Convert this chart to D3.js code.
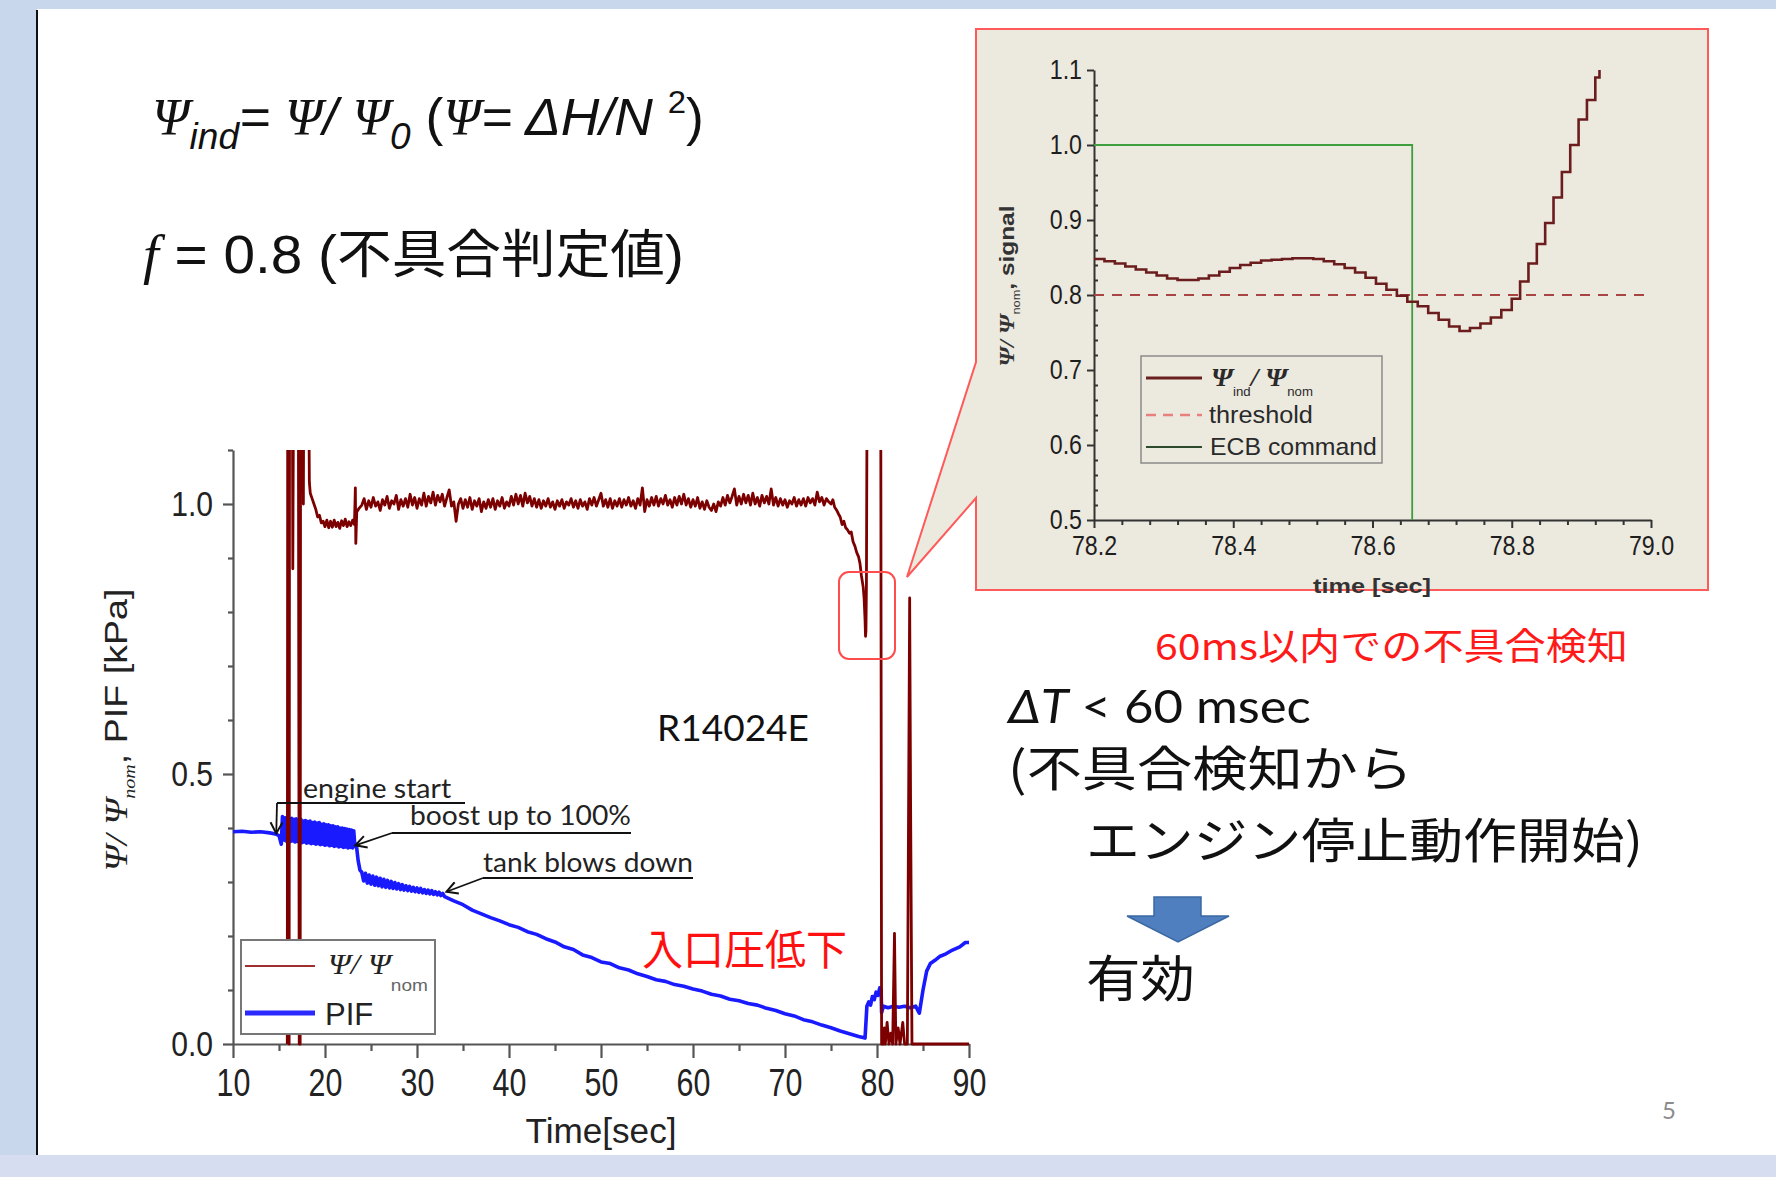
<!DOCTYPE html>
<html>
<head>
<meta charset="utf-8">
<script src="https://cdn.jsdelivr.net/npm/d3@7"></script>
<style>
  body { margin: 0; background: #fff; }
  svg { display: block; }
</style>
</head>
<body>
<svg id="slide" width="1776" height="1177"></svg>
<script>
// ---- data ----
const xTicksMain = [10, 20, 30, 40, 50, 60, 70, 80, 90];
const yTicksMain = [0.0, 0.5, 1.0];
const xTicksInset = [78.2, 78.4, 78.6, 78.8, 79.0];
const yTicksInset = [0.5, 0.6, 0.7, 0.8, 0.9, 1.0, 1.1];

// psi / psi_nom, full run (time [s], value)
const psiTrace = [
  [15.9,0],[15.95,1.3],[16.05,1.3],[16.1,0],[16.15,1.3],[16.45,1.3],[16.5,0.88],[16.6,1.3],[17.1,1.3],[17.2,0],
  [17.3,0],[17.35,1.3],[17.6,1.3],[17.65,1.0],[17.7,1.3],[18.2,1.3],[18.3,1.04],[18.4,1.02],[18.6,1.01],[18.8,1.0],
  [19.0,0.99],[19.2,0.976],[19.4,0.979],[19.6,0.965],[19.8,0.968],[20.0,0.958],[20.2,0.970],[20.4,0.956],[20.6,0.968],
  [20.8,0.957],[21.0,0.970],[21.2,0.958],[21.4,0.966],[21.6,0.955],[21.8,0.969],[22.0,0.960],[22.2,0.972],[22.4,0.958],
  [22.6,0.967],[22.8,0.960],[23.0,0.970],[23.2,0.962],[23.3,1.03],[23.35,0.927],[23.45,0.985],[23.7,0.992],
  [24.0,0.998],[24.25,1.010],[24.5,0.990],[24.75,1.006],[25.0,0.994],[25.25,1.012],[25.5,0.996],[25.75,1.004],[26.0,0.988],
  [26.25,1.008],[26.5,0.998],[26.75,1.014],[27.0,0.992],[27.25,1.006],[27.5,1.000],[27.75,1.016],[28.0,0.990],[28.25,1.008],
  [28.5,0.996],[28.75,1.010],[29.0,0.994],[29.25,1.018],[29.5,0.998],[29.75,1.012],[30.0,0.992],[30.25,1.010],[30.5,0.998],
  [30.75,1.020],[31.0,0.996],[31.25,1.014],[31.5,1.002],[31.75,1.022],[32.0,0.998],[32.25,1.016],[32.5,1.004],[32.75,1.018],
  [33.0,0.996],[33.25,1.012],[33.5,1.026],[33.75,0.996],[34.0,1.004],[34.25,0.968],[34.5,1.000],[34.75,1.010],[35.0,0.992],
  [35.25,1.008],[35.5,0.994],[35.75,1.012],[36.0,0.990],[36.25,1.006],[36.5,0.996],[36.75,1.010],[37.0,0.986],[37.25,1.004],
  [37.5,0.992],[37.75,1.008],[38.0,0.994],[38.25,1.010],[38.5,0.990],[38.75,1.006],[39.0,0.996],[39.25,1.012],[39.5,0.992],
  [39.75,1.004],[40.0,0.996],[40.25,1.014],[40.5,0.998],[40.75,1.018],[41.0,1.000],[41.25,1.016],[41.5,0.996],[41.75,1.020],
  [42.0,1.002],[42.25,1.014],[42.5,0.996],[42.75,1.010],[43.0,0.994],[43.25,1.008],[43.5,0.992],[43.75,1.006],[44.0,0.996],
  [44.25,1.010],[44.5,0.994],[44.75,1.004],[45.0,0.990],[45.25,1.006],[45.5,0.996],[45.75,1.008],[46.0,0.992],[46.25,1.004],
  [46.5,0.998],[46.75,1.010],[47.0,0.994],[47.25,1.006],[47.5,0.992],[47.75,1.008],[48.0,0.996],[48.25,1.004],[48.5,0.990],
  [48.75,1.010],[49.0,0.998],[49.25,1.012],[49.5,0.996],[49.75,1.008],[50.0,1.020],[50.25,0.996],[50.5,1.008],[50.75,0.994],
  [51.0,1.010],[51.25,0.992],[51.5,1.006],[51.75,0.996],[52.0,1.010],[52.25,0.994],[52.5,1.008],[52.75,0.998],[53.0,1.012],
  [53.25,0.996],[53.5,1.006],[53.75,0.992],[54.0,1.010],[54.25,0.998],[54.5,1.030],[54.75,0.986],[55.0,1.008],[55.25,0.996],
  [55.5,1.012],[55.75,0.998],[56.0,1.014],[56.25,0.996],[56.5,1.010],[56.75,1.000],[57.0,1.016],[57.25,0.998],[57.5,1.008],
  [57.75,0.994],[58.0,1.012],[58.25,0.998],[58.5,1.014],[58.75,1.000],[59.0,1.018],[59.25,0.998],[59.5,1.010],[59.75,0.994],
  [60.0,1.008],[60.25,0.996],[60.5,1.012],[60.75,0.992],[61.0,1.004],[61.25,0.990],[61.5,1.006],[61.75,0.994],[62.0,0.988],
  [62.25,1.000],[62.5,0.986],[62.75,1.004],[63.0,0.996],[63.25,1.012],[63.5,0.998],[63.75,1.016],[64.0,1.002],[64.25,1.014],
  [64.5,1.028],[64.75,0.998],[65.0,1.014],[65.25,1.000],[65.5,1.018],[65.75,1.002],[66.0,1.016],[66.25,0.998],[66.5,1.020],
  [66.75,1.000],[67.0,1.012],[67.25,0.996],[67.5,1.016],[67.75,1.002],[68.0,1.014],[68.25,1.000],[68.5,1.028],[68.75,0.998],
  [69.0,1.012],[69.25,0.996],[69.5,1.010],[69.75,0.998],[70.0,1.008],[70.25,0.994],[70.5,1.006],[70.75,1.000],[71.0,1.012],
  [71.25,0.996],[71.5,1.008],[71.75,0.998],[72.0,1.010],[72.25,0.996],[72.5,1.012],[72.75,1.002],[73.0,1.010],[73.25,0.998],
  [73.5,1.022],[73.75,1.004],[74.0,1.012],[74.25,0.998],[74.5,1.010],[74.75,1.004],
  [75.0,1.000],[75.2,1.008],[75.4,0.994],[75.6,0.989],[75.8,0.982],[76.0,0.976],[76.2,0.962],[76.4,0.968],[76.6,0.956],
  [76.8,0.952],[77.0,0.946],[77.2,0.948],[77.4,0.930],[77.6,0.922],[77.8,0.910],[78.0,0.902],[78.15,0.890],[78.3,0.868],
  [78.5,0.846],[78.6,0.825],[78.7,0.785],[78.75,0.755],[78.8,0.765],[78.85,0.85],[78.9,1.1],[78.95,1.3],[80.4,1.3],[80.5,0],
  [80.7,0],[80.8,0.03],[80.9,0],[81.1,0.04],[81.3,0],[81.5,0.02],[81.7,0],[81.9,0.205],[82.05,0],[82.3,0.03],
  [82.5,0],[82.8,0.04],[83.0,0],[83.3,0],[83.55,0.826],[83.65,0.45],[83.8,0],[84.0,0],[90,0]
];

// PIF [kPa], full run (time [s], value)
const pifTrace = [
  [10,0.393],[11,0.394],[12,0.392],[13,0.393],[14,0.391],[14.6,0.389],[15.0,0.386],
  [15.25,0.370],[15.375,0.421],[15.5,0.378],[15.625,0.419],[15.75,0.376],[15.875,0.420],[16.0,0.377],[16.125,0.417],
  [16.25,0.375],[16.375,0.418],[16.5,0.376],[16.625,0.416],[16.75,0.374],[16.875,0.417],[17.0,0.375],[17.125,0.414],
  [17.25,0.374],[17.375,0.416],[17.5,0.373],[17.625,0.413],[17.75,0.374],[17.875,0.414],[18.0,0.372],[18.125,0.412],
  [18.25,0.373],[18.375,0.413],[18.5,0.371],[18.625,0.410],[18.75,0.372],[18.875,0.411],[19.0,0.370],[19.125,0.409],
  [19.25,0.371],[19.375,0.410],[19.5,0.369],[19.625,0.407],[19.75,0.370],[19.875,0.408],[20.0,0.368],[20.125,0.406],
  [20.25,0.369],[20.375,0.406],[20.5,0.367],[20.625,0.404],[20.75,0.368],[20.875,0.404],[21.0,0.366],[21.125,0.402],
  [21.25,0.367],[21.375,0.402],[21.5,0.365],[21.625,0.400],[21.75,0.366],[21.875,0.400],[22.0,0.364],[22.125,0.399],
  [22.25,0.365],[22.375,0.398],[22.5,0.363],[22.625,0.397],[22.75,0.364],[22.875,0.396],[23.0,0.363],[23.125,0.395],
  [23.25,0.366],[23.4,0.370],[23.6,0.340],[23.8,0.322],[24.0,0.318],[24.2,0.302],[24.4,0.316],[24.6,0.298],[24.8,0.313],
  [25.0,0.296],[25.2,0.311],[25.4,0.294],[25.6,0.309],[25.8,0.293],[26.0,0.307],[26.2,0.291],[26.4,0.305],[26.6,0.290],
  [26.8,0.303],[27.0,0.289],[27.2,0.301],[27.4,0.288],[27.6,0.299],[27.8,0.287],[28.0,0.297],[28.2,0.286],[28.4,0.295],
  [28.6,0.285],[28.8,0.293],[29.0,0.284],[29.2,0.292],[29.4,0.283],[29.6,0.290],[29.8,0.282],[30.0,0.289],[30.2,0.281],
  [30.4,0.288],[30.6,0.280],[30.8,0.286],[31.0,0.279],[31.2,0.285],[31.4,0.278],[31.6,0.284],[31.8,0.277],[32.0,0.282],
  [32.2,0.276],[32.4,0.281],[32.6,0.275],[32.8,0.279],[33.0,0.273],
  [34,0.265],[35,0.258],[36,0.248],[37,0.241],[38,0.234],[39,0.228],[40,0.221],[41,0.216],[42,0.208],[43,0.203],
  [44,0.195],[45,0.189],[46,0.180],[47,0.175],[48,0.165],[49,0.160],[50,0.152],[51,0.149],[52,0.141],[53,0.137],
  [54,0.130],[55,0.125],[56,0.119],[57,0.116],[58,0.110],[59,0.107],[60,0.102],[61,0.098],[62,0.092],[63,0.089],
  [64,0.083],[65,0.080],[66,0.075],[67,0.072],[68,0.066],[69,0.062],[70,0.056],[71,0.052],[72,0.045],[73,0.041],
  [74,0.035],[75,0.030],[76,0.024],[77,0.019],[78,0.014],[78.7,0.011],[78.8,0.04],
  [78.9,0.07],[79.1,0.078],[79.3,0.072],[79.5,0.088],[79.7,0.082],[79.9,0.096],[80.1,0.09],[80.3,0.104],[80.45,0.1],
  [80.5,0.058],[80.7,0.07],[81.2,0.067],[81.8,0.07],[82.4,0.068],[83.0,0.07],[83.6,0.067],[84.2,0.07],[84.6,0.057],
  [85.0,0.1],[85.4,0.135],[85.8,0.149],[86.3,0.155],[86.8,0.162],[87.5,0.167],[88.2,0.174],[89.0,0.18],[89.6,0.188],[90,0.188]
];

// zoomed window: psi_ind / psi_nom (sampled, stepwise)
const psiInset = [
  [78.200,0.848],[78.215,0.845],[78.230,0.842],[78.245,0.838],[78.260,0.834],[78.275,0.830],[78.290,0.826],[78.305,0.822],
  [78.320,0.820],[78.335,0.820],[78.350,0.822],[78.365,0.826],[78.380,0.831],[78.395,0.836],[78.410,0.840],[78.425,0.843],
  [78.440,0.846],[78.455,0.847],[78.470,0.848],[78.485,0.849],[78.500,0.849],[78.515,0.848],[78.530,0.845],[78.545,0.841],
  [78.560,0.836],[78.575,0.830],[78.590,0.823],[78.605,0.815],[78.620,0.807],[78.635,0.799],[78.650,0.791],[78.665,0.785],
  [78.680,0.776],[78.695,0.767],[78.710,0.758],[78.725,0.752],[78.740,0.756],[78.755,0.762],[78.770,0.770],[78.785,0.780],
  [78.800,0.795],[78.812,0.818],[78.824,0.842],[78.836,0.868],[78.848,0.896],[78.860,0.930],[78.872,0.964],[78.884,1.000],
  [78.896,1.034],[78.908,1.060],[78.920,1.090],[78.926,1.100]
];
const thresholdLevel = 0.8;
const ecbCommand = [[78.2, 1.0], [78.657, 1.0], [78.657, 0.5]];

// ---- fonts ----
const SANS = "'Liberation Sans',Arial,sans-serif";
const SERIF = "'Liberation Serif','DejaVu Serif',serif";
const CALI = "Lato,'Noto Sans CJK JP',sans-serif";
const JP = "'Noto Sans CJK JP','Noto Sans',sans-serif";

const svg = d3.select('#slide');

// stretch a text horizontally so it spans the given width
function fit(sel, width, anchor) {
  const bb = sel.node().getBBox();
  const k = width / bb.width;
  const ox = anchor === 'middle' ? bb.x + bb.width / 2 : anchor === 'end' ? bb.x + bb.width : bb.x;
  sel.attr('transform', 'translate(' + ox + ',0) scale(' + k + ',1) translate(' + (-ox) + ',0)');
  return sel;
}

// narrow the tick labels the way the pasted plot looks
function squeezeTicks(axisG, k, anchor) {
  axisG.selectAll('.tick text').each(function () {
    const t = d3.select(this);
    const w = this.getBBox().width;
    fit(t, w * k, anchor);
  });
}

function drawSlide() {
  svg.append('rect').attr('width', 1776).attr('height', 1177).attr('fill', '#c9d7ec');
  svg.append('rect').attr('x', 0).attr('y', 1155).attr('width', 1776).attr('height', 22).attr('fill', '#d6ddf0');
  svg.append('rect').attr('x', 37).attr('y', 9).attr('width', 1739).attr('height', 1146).attr('fill', '#ffffff');
  svg.append('line').attr('x1', 37).attr('x2', 37).attr('y1', 10).attr('y2', 1155)
    .attr('stroke', '#111').attr('stroke-width', 2);
}

function drawFormulas() {
  const t1 = svg.append('text').attr('x', 152).attr('y', 135)
    .attr('font-family', SANS).attr('font-style', 'italic').attr('font-size', 52).attr('fill', '#111');
  t1.append('tspan').attr('font-family', SERIF).text('Ψ');
  t1.append('tspan').attr('font-size', 36).attr('dy', 14).text('ind');
  t1.append('tspan').attr('dy', -14).text('= ');
  t1.append('tspan').attr('font-family', SERIF).text('Ψ');
  t1.append('tspan').text('/ ');
  t1.append('tspan').attr('font-family', SERIF).text('Ψ');
  t1.append('tspan').attr('font-size', 36).attr('dy', 14).text('0');
  t1.append('tspan').attr('dy', -14).attr('font-style', 'normal').text('  (');
  t1.append('tspan').attr('font-family', SERIF).text('Ψ');
  t1.append('tspan').text('= ΔH/N ');
  t1.append('tspan').attr('font-style', 'normal').attr('font-size', 32).attr('dy', -22).text('2');
  t1.append('tspan').attr('font-style', 'normal').attr('dy', 22).text(')');
  fit(t1, 552, 'start');

  const t2 = svg.append('text').attr('x', 143).attr('y', 273)
    .attr('font-family', SANS).attr('font-size', 54).attr('fill', '#111');
  t2.append('tspan').attr('font-family', SERIF).attr('font-style', 'italic').text('f');
  t2.append('tspan').text(' = 0.8 (');
  t2.append('tspan').attr('font-family', JP).attr('font-size', 52).text('不具合判定値');
  t2.append('tspan').text(')');
  fit(t2, 541, 'start');
}

function drawMainChart() {
  const x = d3.scaleLinear().domain([10, 90]).range([233, 969]);
  const y = d3.scaleLinear().domain([0, 1.1]).range([1044, 450]);
  const g = svg.append('g').attr('class', 'main');

  g.append('clipPath').attr('id', 'clipMain').append('rect')
    .attr('x', 233).attr('y', 450).attr('width', 738).attr('height', 597);

  // axes
  const xa = g.append('g').attr('class', 'x axis').attr('transform', 'translate(0,1044)');
  xa.call(d3.axisBottom(x).tickValues(xTicksMain).tickSize(14).tickSizeOuter(0).tickPadding(11).tickFormat(d3.format('d')));
  const xm = g.append('g').attr('class', 'x minor').attr('transform', 'translate(0,1044)');
  xm.call(d3.axisBottom(x).tickValues(d3.range(15, 90, 10)).tickSize(7).tickFormat(''));
  xm.select('.domain').remove();

  const ya = g.append('g').attr('class', 'y axis').attr('transform', 'translate(233,0)');
  ya.call(d3.axisLeft(y).tickValues(yTicksMain).tickSize(10).tickSizeOuter(0).tickPadding(10).tickFormat(d3.format('.1f')));
  const ym = g.append('g').attr('class', 'y minor').attr('transform', 'translate(233,0)');
  ym.call(d3.axisLeft(y).tickValues([0.1, 0.2, 0.3, 0.4, 0.6, 0.7, 0.8, 0.9, 1.1]).tickSize(5).tickFormat(''));
  ym.select('.domain').remove();

  g.selectAll('.axis path, .minor line, .axis line').attr('stroke', '#555').attr('stroke-width', 2.2);
  xa.selectAll('.tick text').attr('font-family', SANS).attr('font-size', 38).attr('fill', '#222');
  ya.selectAll('.tick text').attr('font-family', SANS).attr('font-size', 35).attr('fill', '#222');
  squeezeTicks(xa, 0.8, 'middle');
  squeezeTicks(ya, 0.86, 'end');

  // series
  const line = d3.line().x(d => x(d[0])).y(d => y(d[1]));
  const series = g.append('g').attr('clip-path', 'url(#clipMain)');
  series.append('path').datum(pifTrace).attr('d', line)
    .attr('fill', 'none').attr('stroke', '#1a1aff').attr('stroke-width', 3.6).attr('stroke-linejoin', 'round');
  series.append('path').datum(psiTrace).attr('d', line)
    .attr('fill', 'none').attr('stroke', '#7d0000').attr('stroke-width', 2.8).attr('stroke-linejoin', 'round');

  // axis titles
  const xt = g.append('text').attr('x', 601).attr('y', 1143).attr('text-anchor', 'middle')
    .attr('font-family', SANS).attr('font-size', 36).attr('fill', '#222').text('Time[sec]');
  fit(xt, 151, 'middle');

  const yg = g.append('g').attr('transform', 'translate(127,730) rotate(-90)');
  const yt = yg.append('text').attr('text-anchor', 'middle').attr('font-family', SANS).attr('font-size', 32).attr('fill', '#222');
  yt.append('tspan').attr('font-family', SERIF).attr('font-style', 'italic').text('Ψ/ Ψ');
  yt.append('tspan').attr('font-family', SERIF).attr('font-style', 'italic').attr('font-size', 17).attr('dy', 8).text('nom');
  yt.append('tspan').attr('dy', -8).text(',  PIF [kPa]');
  fit(yt, 283, 'middle');

  // annotations
  const defs = svg.append('defs');
  defs.append('marker').attr('id', 'vhead').attr('viewBox', '-12 -7 14 14')
    .attr('markerWidth', 14).attr('markerHeight', 14).attr('markerUnits', 'userSpaceOnUse')
    .attr('refX', 0).attr('refY', 0).attr('orient', 'auto')
    .append('path').attr('d', 'M-11,-6 L0,0 L-11,6').attr('fill', 'none').attr('stroke', '#111').attr('stroke-width', 2);

  const notes = [
    { text: 'engine start', tip: [14.7, 0.39], from: [277, 803], end: 465, tx: 303, ty: 798, w: 149 },
    { text: 'boost up to 100%', tip: [23.3, 0.368], from: [392, 833], end: 631, tx: 410, ty: 825, w: 221 },
    { text: 'tank blows down', tip: [33.2, 0.282], from: [483, 878], end: 693, tx: 483, ty: 872, w: 210 }
  ];
  const ann = g.append('g').attr('class', 'annotations');
  notes.forEach(n => {
    ann.append('line').attr('x1', n.from[0]).attr('y1', n.from[1]).attr('x2', n.end).attr('y2', n.from[1])
      .attr('stroke', '#111').attr('stroke-width', 1.8);
    ann.append('line').attr('x1', n.from[0]).attr('y1', n.from[1]).attr('x2', x(n.tip[0])).attr('y2', y(n.tip[1]))
      .attr('stroke', '#111').attr('stroke-width', 1.8).attr('marker-end', 'url(#vhead)');
    const t = ann.append('text').attr('x', n.tx).attr('y', n.ty).attr('font-family', CALI).attr('font-size', 26)
      .attr('fill', '#222').text(n.text);
    fit(t, n.w, 'start');
  });

  const run = g.append('text').attr('x', 657).attr('y', 741).attr('font-family', CALI).attr('font-size', 36)
    .attr('fill', '#111').text('R14024E');
  fit(run, 152, 'start');

  const drop = g.append('text').attr('x', 642).attr('y', 965).attr('font-family', JP).attr('font-size', 42)
    .attr('fill', '#ff1010').text('入口圧低下');
  fit(drop, 205, 'start');

  g.append('rect').attr('x', 839).attr('y', 572).attr('width', 56).attr('height', 87).attr('rx', 10)
    .attr('fill', 'none').attr('stroke', '#ff4d4d').attr('stroke-width', 2);

  // legend
  const lg = g.append('g').attr('class', 'legend');
  lg.append('rect').attr('x', 241).attr('y', 940).attr('width', 194).attr('height', 94)
    .attr('fill', '#fff').attr('stroke', '#777').attr('stroke-width', 2);
  lg.append('line').attr('x1', 245).attr('x2', 315).attr('y1', 966).attr('y2', 966)
    .attr('stroke', '#a03030').attr('stroke-width', 1.8);
  lg.append('line').attr('x1', 245).attr('x2', 315).attr('y1', 1013).attr('y2', 1013)
    .attr('stroke', '#2a2aff').attr('stroke-width', 5);
  const l1 = lg.append('text').attr('x', 328).attr('y', 974).attr('font-family', SERIF).attr('font-style', 'italic')
    .attr('font-size', 29).attr('fill', '#222');
  l1.append('tspan').text('Ψ/ Ψ');
  l1.append('tspan').attr('font-family', SANS).attr('font-style', 'normal').attr('font-size', 17)
    .attr('fill', '#666').attr('dy', 17).text('nom');
  fit(l1, 100, 'start');
  lg.append('text').attr('x', 325).attr('y', 1025).attr('font-family', SANS).attr('font-size', 31)
    .attr('fill', '#222').text('PIF');
}

function drawInset() {
  const xi = d3.scaleLinear().domain([78.2, 79.0]).range([1094, 1651]);
  const yi = d3.scaleLinear().domain([0.5, 1.1]).range([520, 70]);
  const g = svg.append('g').attr('class', 'inset');

  // callout panel
  g.append('path').attr('d', 'M976,29 H1708 V590 H976 V498 L907,577 L976,362 Z')
    .attr('fill', '#ece9df').attr('stroke', '#ff5a5a').attr('stroke-width', 2);

  const xa = g.append('g').attr('transform', 'translate(0,520)');
  xa.call(d3.axisBottom(xi).tickValues(xTicksInset).tickSize(8).tickSizeOuter(0).tickPadding(8).tickFormat(d3.format('.1f')));
  const xm = g.append('g').attr('transform', 'translate(0,520)');
  xm.call(d3.axisBottom(xi).tickValues(d3.range(78.24, 78.99, 0.04).filter(v => Math.abs(v * 5 - Math.round(v * 5)) > 0.01)).tickSize(5).tickFormat(''));
  xm.select('.domain').remove();

  const ya = g.append('g').attr('transform', 'translate(1094,0)');
  ya.call(d3.axisLeft(yi).tickValues(yTicksInset).tickSize(7).tickSizeOuter(0).tickPadding(5).tickFormat(d3.format('.1f')));
  const ym = g.append('g').attr('transform', 'translate(1094,0)');
  ym.call(d3.axisLeft(yi).tickValues(d3.range(0.52, 1.09, 0.02).filter(v => Math.abs(v * 10 - Math.round(v * 10)) > 0.01)).tickSize(-4).tickFormat(''));
  ym.select('.domain').remove();

  g.selectAll('.domain, .tick line').attr('stroke', '#333').attr('stroke-width', 2);
  g.selectAll('.tick text').attr('font-family', SANS).attr('font-size', 27).attr('fill', '#1e1e1e');
  squeezeTicks(xa, 0.86, 'middle');
  squeezeTicks(ya, 0.86, 'end');

  const line = d3.line().x(d => xi(d[0])).y(d => yi(d[1]));
  g.append('path').datum(ecbCommand).attr('d', line)
    .attr('fill', 'none').attr('stroke', '#3f9f3f').attr('stroke-width', 1.8);
  g.append('path').datum([[78.2, thresholdLevel], [79.0, thresholdLevel]]).attr('d', line)
    .attr('fill', 'none').attr('stroke', '#a84444').attr('stroke-width', 2).attr('stroke-dasharray', '10,8');
  g.append('path').datum(psiInset).attr('d', line.curve(d3.curveStepAfter))
    .attr('fill', 'none').attr('stroke', '#6b1d1d').attr('stroke-width', 2.6);

  const xt = g.append('text').attr('x', 1372).attr('y', 593).attr('text-anchor', 'middle')
    .attr('font-family', SANS).attr('font-weight', 'bold').attr('font-size', 21).attr('fill', '#333').text('time [sec]');
  fit(xt, 118, 'middle');

  const yg = g.append('g').attr('transform', 'translate(1014,286) rotate(-90)');
  const yt = yg.append('text').attr('text-anchor', 'middle').attr('font-family', SANS).attr('font-weight', 'bold')
    .attr('font-size', 21).attr('fill', '#333');
  yt.append('tspan').attr('font-family', SERIF).attr('font-style', 'italic').text('Ψ/ Ψ');
  yt.append('tspan').attr('font-weight', 'normal').attr('font-size', 11).attr('dy', 6).text('nom');
  yt.append('tspan').attr('dy', -6).text(', signal');
  fit(yt, 161, 'middle');

  // legend
  const lg = g.append('g');
  lg.append('rect').attr('x', 1141).attr('y', 356).attr('width', 241).attr('height', 107)
    .attr('fill', 'none').attr('stroke', '#8a8a8a').attr('stroke-width', 1.5);
  lg.append('line').attr('x1', 1146).attr('x2', 1202).attr('y1', 378).attr('y2', 378)
    .attr('stroke', '#6b2020').attr('stroke-width', 3);
  lg.append('line').attr('x1', 1146).attr('x2', 1202).attr('y1', 415).attr('y2', 415)
    .attr('stroke', '#e88080').attr('stroke-width', 2.5).attr('stroke-dasharray', '10,7');
  lg.append('line').attr('x1', 1146).attr('x2', 1202).attr('y1', 447).attr('y2', 447)
    .attr('stroke', '#2e4a2e').attr('stroke-width', 2);
  const e1 = lg.append('text').attr('x', 1211).attr('y', 386).attr('font-family', SERIF).attr('font-style', 'italic')
    .attr('font-weight', 'bold').attr('font-size', 25).attr('fill', '#2a2a2a');
  e1.append('tspan').text('Ψ');
  e1.append('tspan').attr('font-family', SANS).attr('font-style', 'normal').attr('font-weight', 'normal')
    .attr('font-size', 12).attr('dy', 10).text('ind');
  e1.append('tspan').attr('dy', -10).text('/ Ψ');
  e1.append('tspan').attr('font-family', SANS).attr('font-style', 'normal').attr('font-weight', 'normal')
    .attr('font-size', 12).attr('dy', 10).text('nom');
  fit(e1, 102, 'start');
  const e2 = lg.append('text').attr('x', 1209).attr('y', 423).attr('font-family', SANS).attr('font-size', 24)
    .attr('fill', '#2a2a2a').text('threshold');
  fit(e2, 104, 'start');
  const e3 = lg.append('text').attr('x', 1210).attr('y', 455).attr('font-family', SANS).attr('font-size', 24)
    .attr('fill', '#2a2a2a').text('ECB command');
  fit(e3, 167, 'start');
}

function drawNotes() {
  const red = svg.append('text').attr('x', 1155).attr('y', 660).attr('font-family', JP).attr('font-size', 37)
    .attr('fill', '#ff1a1a').text('60ms以内での不具合検知');
  fit(red, 473, 'start');

  const dt = svg.append('text').attr('x', 1008).attr('y', 723).attr('font-family', CALI).attr('font-size', 46)
    .attr('fill', '#111');
  dt.append('tspan').attr('font-style', 'italic').text('ΔT');
  dt.append('tspan').text(' < 60 msec');
  fit(dt, 305, 'start');

  const l2 = svg.append('text').attr('x', 1008).attr('y', 786).attr('font-family', JP).attr('font-size', 48)
    .attr('fill', '#111').text('(不具合検知から');
  fit(l2, 405, 'start');
  const l3 = svg.append('text').attr('x', 1086).attr('y', 858).attr('font-family', JP).attr('font-size', 48)
    .attr('fill', '#111').text('エンジン停止動作開始)');
  fit(l3, 557, 'start');

  svg.append('path')
    .attr('d', 'M1154,897 H1201 V916 H1229 L1178,942 L1127,916 H1154 Z')
    .attr('fill', '#4f7fbf').attr('stroke', '#3b68a3').attr('stroke-width', 1.5);

  const ok = svg.append('text').attr('x', 1086).attr('y', 997).attr('font-family', JP).attr('font-size', 50)
    .attr('fill', '#111').text('有効');
  fit(ok, 109, 'start');

  svg.append('text').attr('x', 1662).attr('y', 1119).attr('font-family', CALI).attr('font-size', 24)
    .attr('fill', '#8c8c8c').text('5');
}

drawSlide();
drawFormulas();
drawMainChart();
drawInset();
drawNotes();
</script>
</body>
</html>
